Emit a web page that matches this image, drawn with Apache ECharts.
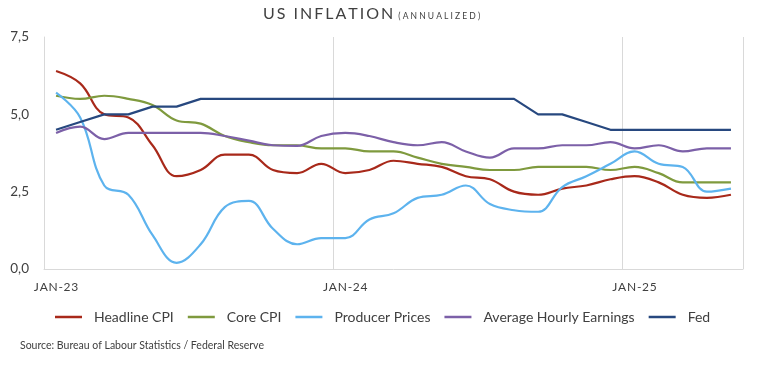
<!DOCTYPE html>
<html>
<head>
<meta charset="utf-8">
<script src="https://cdn.jsdelivr.net/npm/echarts@6/dist/echarts.min.js"></script>
<style>
html,body{margin:0;padding:0;background:#fff;}
#chart{width:758px;height:367px;}
</style>
</head>
<body>
<div id="chart"></div>
<script>
// ---- Data ----
const months = ['JAN-23','FEB-23','MAR-23','APR-23','MAY-23','JUN-23','JUL-23','AUG-23','SEP-23','OCT-23','NOV-23','DEC-23',
                'JAN-24','FEB-24','MAR-24','APR-24','MAY-24','JUN-24','JUL-24','AUG-24','SEP-24','OCT-24','NOV-24','DEC-24',
                'JAN-25','FEB-25','MAR-25','APR-25','MAY-25'];
const headlineCPI = [6.4,6.0,5.0,4.9,4.0,3.0,3.2,3.7,3.7,3.2,3.1,3.4,3.1,3.2,3.5,3.4,3.3,3.0,2.9,2.5,2.4,2.6,2.7,2.9,3.0,2.8,2.4,2.3,2.4];
const coreCPI     = [5.6,5.5,5.6,5.5,5.3,4.8,4.7,4.3,4.1,4.0,4.0,3.9,3.9,3.8,3.8,3.6,3.4,3.3,3.2,3.2,3.3,3.3,3.3,3.2,3.3,3.1,2.8,2.8,2.8];
const producerPrices = [5.7,4.9,2.7,2.4,1.1,0.2,0.8,2.0,2.2,1.3,0.8,1.0,1.0,1.6,1.8,2.3,2.4,2.7,2.1,1.9,1.85,2.65,3.0,3.4,3.8,3.4,3.3,2.5,2.6];
const hourlyEarnings = [4.4,4.6,4.2,4.4,4.4,4.4,4.4,4.3,4.15,4.0,3.98,4.3,4.4,4.3,4.1,4.0,4.1,3.8,3.6,3.9,3.9,4.0,4.0,4.1,3.9,4.0,3.8,3.9,3.9];
const fedRate = [4.5,4.75,5.0,5.0,5.25,5.25,5.5,5.5,5.5,5.5,5.5,5.5,5.5,5.5,5.5,5.5,5.5,5.5,5.5,5.5,5.0,5.0,4.75,4.5,4.5,4.5,4.5,4.5,4.5];
const seriesNames = ['Headline CPI','Core CPI','Producer Prices','Average Hourly Earnings','Fed'];

const colors = ['#A8291A','#7F9A3E','#5DB3EE','#7C60A8','#27487F'];
const FONT = 'Lato';
const TXT = '#404040';
function spaced(s, sp){ return s.split('').join(sp); }

const chart = echarts.init(document.getElementById('chart'), null, {renderer:'canvas'});
const seriesData = [headlineCPI, coreCPI, producerPrices, hourlyEarnings, fedRate];

chart.setOption({
  animation: false,
  textStyle: {fontFamily: FONT},
  title: {
    left: 263, top: 6, padding: 0,
    text: '{a|' + spaced('US INFLATION', '\u2009') + '}{s|\u2002}{b|' + spaced('(ANNUALIZED)', '\u2009\u2009') + '}',
    textStyle: {
      fontWeight: 'normal',
      rich: {
        a: {fontSize: 16, color: '#404040', fontFamily: FONT, fontWeight: 'normal', verticalAlign: 'bottom'},
        s: {fontSize: 10, fontFamily: FONT, fontWeight: 'normal'},
        b: {fontSize: 8.5, color: '#404040', fontFamily: FONT, fontWeight: 'normal', verticalAlign: 'bottom', padding:[0,0,1,0]}
      }
    }
  },
  grid: {left: 44, right: 15, top: 37, bottom: 98, containLabel: false},
  legend: {
    left: 55, top: 310, padding: 0,
    icon: 'rect', itemWidth: 27, itemHeight: 2.5, itemGap: 14,
    data: seriesNames,
    textStyle: {fontSize: 14, color: TXT, fontFamily: FONT, padding: [0,0,0,7]}
  },
  xAxis: {
    type: 'category', data: months, boundaryGap: true,
    axisLine: {lineStyle: {color: '#d9d9d9', width: 1}},
    axisTick: {show: false},
    axisLabel: {
      interval: function(i){ return i % 12 === 0; },
      formatter: function(v){ return spaced(v, '\u200A'); },
      color: TXT, fontSize: 12, margin: 12, fontFamily: FONT
    },
    splitLine: {show: true, interval: function(i){ return i % 12 === 0; }, lineStyle: {color: '#d9d9d9', width: 1}}
  },
  yAxis: {
    type: 'value', min: 0, max: 7.5, interval: 2.5,
    axisLine: {show: true, lineStyle: {color: '#d9d9d9', width: 1}},
    axisTick: {show: false},
    splitLine: {show: false},
    axisLabel: {
      formatter: function(v){ return v.toFixed(1).replace('.', ','); },
      color: TXT, fontSize: 13.5, margin: 15, fontFamily: FONT
    }
  },
  series: seriesNames.map(function(name, k){
    return {
      name: name, type: 'line', data: seriesData[k],
      smooth: k === 4 ? false : 0.4,
      showSymbol: false, symbol: 'none',
      lineStyle: {color: colors[k], width: 2.2},
      itemStyle: {color: colors[k]}
    };
  }),
  graphic: [{
    type: 'text', left: 20, top: 340,
    style: {text: 'Source: Bureau of Labour Statistics / Federal Reserve', fontSize: 10.5, fill: TXT, fontFamily: FONT}
  }]
});
</script>
</body>
</html>
